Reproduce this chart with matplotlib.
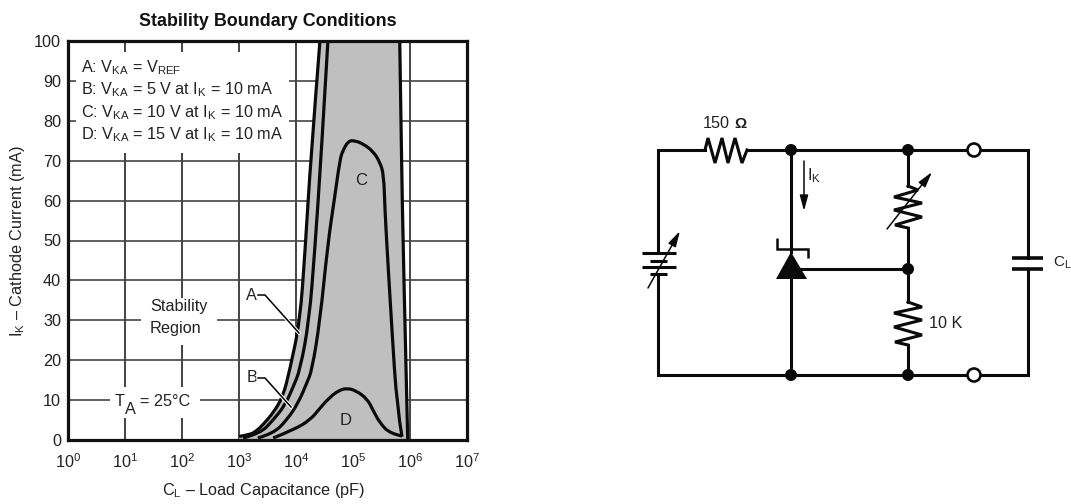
import numpy as np
import matplotlib
matplotlib.use('Agg')
import matplotlib.pyplot as plt
from matplotlib.patches import Rectangle, Polygon, Circle, FancyArrowPatch, PathPatch
from matplotlib.path import Path
import matplotlib.patheffects as pe

plt.rcParams['font.family'] = ['Liberation Sans', 'DejaVu Sans']
plt.rcParams['mathtext.fontset'] = 'custom'
plt.rcParams['mathtext.rm'] = 'Liberation Sans'
plt.rcParams['mathtext.default'] = 'regular'

# ---- chart data: log10(C_L / pF) and I_K in mA
a_logc = [3.00, 3.19, 3.30, 3.42, 3.60, 3.77, 3.89, 4.07, 4.16, 4.26, 4.42]
a_ik = [0.9, 1.3, 2.2, 3.8, 6.8, 10.8, 17.5, 29.8, 47.6, 70.9, 100]
b_logc = [3.07, 3.37, 3.60, 3.81, 3.95, 4.07, 4.23, 4.33, 4.44, 4.56]
b_ik = [0.5, 1.6, 5.0, 8.8, 13.3, 17.5, 29.8, 47.6, 70.9, 100]
c_logc = [3.33, 3.60, 3.84, 4.04, 4.19, 4.28, 4.42, 4.56, 4.67, 4.77, 4.82, 4.92, 5.04,
          5.18, 5.35, 5.47, 5.54, 5.56, 5.61, 5.68, 5.77, 5.86]
c_ik = [0.5, 1.6, 5.0, 9.3, 14.3, 17.5, 29.8, 49.4, 60, 70.2, 72.5, 75.0, 75.0,
        74.2, 72.4, 69.7, 66.5, 57.6, 45.1, 28.3, 8.3, 0.8]
d_logc = [3.60, 3.95, 4.25, 4.42, 4.60, 4.75, 4.89, 5.05, 5.25, 5.35, 5.47, 5.65, 5.86]
d_ik = [0.5, 2.5, 5.0, 8.0, 10.8, 12.4, 13.0, 12.4, 10.3, 7.5, 4.3, 1.6, 1.0]
r_logc = [5.82, 5.85, 5.88, 5.96]
r_ik = [100, 72, 47.6, 0]
y_ticks = list(range(0, 101, 10))
x_ticks = [1e0, 1e1, 1e2, 1e3, 1e4, 1e5, 1e6, 1e7]
legend_lines = ['A: V$_{KA}$ = V$_{REF}$',
                'B: V$_{KA}$ = 5 V at I$_{K}$ = 10 mA',
                'C: V$_{KA}$ = 10 V at I$_{K}$ = 10 mA',
                'D: V$_{KA}$ = 15 V at I$_{K}$ = 10 mA']

W, H = 1071, 504
TXT = '#222222'
FS = 11.7
fig = plt.figure(figsize=(W / 100, H / 100), dpi=100)
ax = fig.add_axes([68 / W, 1 - 440 / H, 399 / W, 399 / H])
ax.set_xscale('log')
ax.set_xlim(1, 1e7)
ax.set_ylim(0, 100)
ax.set_xticks(x_ticks)
ax.xaxis.set_minor_locator(matplotlib.ticker.NullLocator())
ax.set_yticks(y_ticks)
ax.tick_params(length=0, labelsize=FS, labelcolor=TXT, pad=5)
ax.tick_params(axis='x', pad=9)
ax.grid(True, axis='x', color='#111111', lw=1.1, zorder=1)
ax.grid(True, axis='y', color='#444444', lw=1.2, zorder=1)
ax.set_axisbelow(True)
for s in ax.spines.values():
    s.set_linewidth(2.3)
    s.set_color('#111111')
    s.set_zorder(6)

def cap(v):
    return 10 ** np.asarray(v, dtype=float)

def smooth_path(logc, ik):
    """Quadratic-spline path using the read points as control vertices."""
    lc = np.asarray(logc, float)
    yy = np.asarray(ik, float)
    verts = [(10 ** lc[0], yy[0])]
    codes = [Path.MOVETO]
    for i in range(1, len(lc) - 1):
        end = (lc[i + 1], yy[i + 1]) if i == len(lc) - 2 else ((lc[i] + lc[i + 1]) / 2, (yy[i] + yy[i + 1]) / 2)
        verts += [(10 ** lc[i], yy[i]), (10 ** end[0], end[1])]
        codes += [Path.CURVE3, Path.CURVE3]
    return Path(verts, codes)

poly_x = np.concatenate([cap(a_logc), cap(r_logc), [1e3]])
poly_y = np.concatenate([a_ik, r_ik, [0]])
ax.fill(poly_x, poly_y, color='#bfbfbf', lw=0, zorder=2)
for lx, ly in [(a_logc, a_ik), (b_logc, b_ik), (c_logc, c_ik), (d_logc, d_ik), (r_logc, r_ik)]:
    ax.add_patch(PathPatch(smooth_path(lx, ly), fc='none', ec='#0a0a0a', lw=2.3, zorder=3,
                           capstyle='butt', joinstyle='round'))
ax.text(10 ** 5.15, 65, 'C', fontsize=12, color=TXT, ha='center', va='center', zorder=4)
ax.text(10 ** 4.87, 5, 'D', fontsize=12, color=TXT, ha='center', va='center', zorder=4)

ax.set_title('Stability Boundary Conditions', fontsize=12.9, fontweight='bold', color='#111111', pad=11)

# ---- overlay in image pixels: annotation boxes and the test circuit
ov = fig.add_axes([0, 0, 1, 1])
ov.set_xlim(0, W)
ov.set_ylim(H, 0)
ov.axis('off')
ov.patch.set_alpha(0)

ax.set_xlabel('C$_{L}$ \u2013 Load Capacitance (pF)', fontsize=FS, color=TXT, va='center', ha='center')
ax.xaxis.set_label_coords(264, 490, transform=ov.transData)
ax.set_ylabel('I$_{K}$ \u2013 Cathode Current (mA)', fontsize=FS, color=TXT, va='center', ha='center')
ax.yaxis.set_label_coords(18, 241, transform=ov.transData)

for x0, y0, x1, y1 in [(76, 52, 289, 153), (141, 298, 217, 345), (110, 387, 200, 418)]:
    ov.add_patch(Rectangle((x0, y0), x1 - x0, y1 - y0, fc='white', ec='none', zorder=1))

for yy, t in zip([68, 90, 113, 135], legend_lines):
    ov.text(81, yy, t, fontsize=FS, color=TXT, va='center', ha='left', zorder=3)
ov.text(150, 306, 'Stability', fontsize=FS, color=TXT, va='center', zorder=3)
ov.text(150, 329, 'Region', fontsize=FS, color=TXT, va='center', zorder=3)
ov.text(115, 402, 'T', fontsize=FS, color=TXT, va='center', zorder=3)
ov.text(125, 410, 'A', fontsize=FS, color=TXT, va='center', zorder=3)
ov.text(140, 402, '= 25\u00b0C', fontsize=FS, color=TXT, va='center', zorder=3)
ov.text(251, 295, 'A', fontsize=FS, color=TXT, va='center', ha='center', zorder=3)
ov.text(252, 378, 'B', fontsize=FS, color=TXT, va='center', ha='center', zorder=3)

halo = [pe.withStroke(linewidth=2.6, foreground='white')]
ov.plot([258, 265, 299], [295, 295, 333], color='black', lw=1.1, zorder=4, path_effects=halo)
ov.plot([258, 265, 291], [378, 378, 407], color='black', lw=1.1, zorder=4, path_effects=halo)

WIRE = dict(color='#0a0a0a', lw=2.2, zorder=3, solid_capstyle='projecting', solid_joinstyle='miter')

def wire(xs, ys):
    ov.plot(xs, ys, **WIRE)

def arrow(p0, p1, width=7, length=13):
    ov.add_patch(FancyArrowPatch(p0, p1, arrowstyle=f'-|>,head_length={length * 0.72},head_width={width * 0.36}',
                                 mutation_scale=1, shrinkA=0, shrinkB=0, color='#0a0a0a', lw=1.1, zorder=5))

# outer loop
wire([705, 658, 658], [150, 150, 253])
wire([658, 658, 1028, 1028], [274, 375, 375, 269])
wire([747, 1028, 1028], [150, 150, 258])
# 150 ohm resistor
wire([705, 708, 715, 722, 728, 735, 742, 747], [150, 138, 163, 138, 163, 138, 163, 150])
# centre rails
wire([791, 791], [150, 252])
wire([791, 791], [279, 375])
wire([797, 908], [269, 269])
wire([908, 908], [150, 186])
wire([908, 908], [228, 302])
wire([908, 908], [345, 375])
# variable resistor
wire([908, 918, 894, 922, 894, 922, 895, 908], [186, 190, 197, 203, 210, 217, 225, 228])
arrow((887, 229), (932, 172))
# 10 K resistor
wire([908, 922, 894, 922, 894, 922, 895, 908], [302, 307, 313, 320, 327, 335, 342, 345])
# battery
for y, x0, x1 in [(253, 642, 676), (261, 650, 667), (267, 642, 676), (274, 650, 667)]:
    ov.plot([x0, x1], [y, y], color='#0a0a0a', lw=2.2, zorder=3, solid_capstyle='butt')
arrow((648, 288), (680, 231))
# capacitor
for y in [258, 269]:
    ov.plot([1012, 1043], [y, y], color='#0a0a0a', lw=2.6, zorder=3, solid_capstyle='butt')
# reference diode
ov.add_patch(Polygon([(791, 252), (776, 279), (807, 279)], closed=True, fc='#0a0a0a', ec='none', zorder=4))
ov.plot([777, 777, 808, 808], [238, 249, 249, 258], color='#0a0a0a', lw=1.8, zorder=4,
        solid_joinstyle='miter', solid_capstyle='butt')
# current arrow
arrow((804, 161), (804, 211))
# nodes
for x, y in [(791, 150), (791, 375), (908, 150), (908, 269), (908, 375)]:
    ov.add_patch(Circle((x, y), 6, fc='#0a0a0a', ec='none', zorder=5))
for y in [150, 375]:
    ov.add_patch(Circle((974, y), 6.5, fc='white', ec='#0a0a0a', lw=1.9, zorder=5))

ov.text(703, 124, '150', fontsize=FS, color=TXT, ha='left', va='center', zorder=6)
ov.text(734, 124, '\u03a9', fontsize=11, fontweight='bold', color=TXT, ha='left', va='center', zorder=6)
ov.text(807, 176, 'I$_{K}$', fontsize=FS, color=TXT, ha='left', va='center', zorder=6)
ov.text(929, 324, '10 K', fontsize=FS, color=TXT, ha='left', va='center', zorder=6)
ov.text(1053, 263, 'C$_{L}$', fontsize=11, color=TXT, ha='left', va='center', zorder=6)

fig.savefig('out.png', dpi=100, facecolor='white')
